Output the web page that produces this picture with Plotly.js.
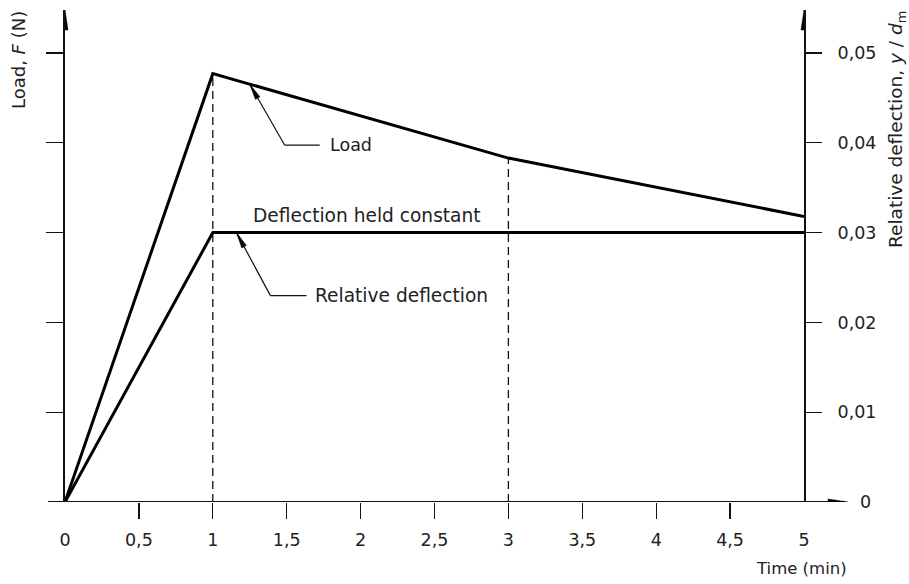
<!DOCTYPE html>
<html>
<head>
<meta charset="utf-8">
<script src="https://cdn.plot.ly/plotly-3.0.1.min.js"></script>
<style>html,body{margin:0;padding:0;background:#fff;}#chart{width:909px;height:584px;}</style>
</head>
<body>
<div id="chart"></div>
<script>
// ---- data ----
const loadTime = [0, 1, 3, 5];
const loadValues = [0, 0.0477, 0.0383, 0.0318];
const deflTime = [0, 1, 5];
const deflValues = [0, 0.03, 0.03];
const dashedTimes = [1, 3];
const xTickVals = [0, 0.5, 1, 1.5, 2, 2.5, 3, 3.5, 4, 4.5, 5];
const xTickText = ['0', '0,5', '1', '1,5', '2', '2,5', '3', '3,5', '4', '4,5', '5'];
const xMinorTicks = [0.5, 1, 1.5, 2, 2.5, 3, 3.5, 4, 4.5];
const yTickVals = [0.01, 0.02, 0.03, 0.04, 0.05];
const yTickText = ['0,01', '0,02', '0,03', '0,04', '0,05'];

const FONT = 'DejaVu Sans';
const TXT = '#222';
const FS = 17.5;
const FA = 18.6;

function interp(xs, ys, x) {
  for (let i = 0; i < xs.length - 1; i++) {
    if (x >= xs[i] && x <= xs[i + 1]) {
      return ys[i] + (ys[i + 1] - ys[i]) * (x - xs[i]) / (xs[i + 1] - xs[i]);
    }
  }
  return ys[ys.length - 1];
}
function headPath(dx, dy, len, hw) {
  const L = Math.hypot(dx, dy), ux = dx / L, uy = dy / L, px = -uy, py = ux;
  const bx = ux * len, by = uy * len;
  return `M0,0 L${bx + px * hw},${by + py * hw} L${bx - px * hw},${by - py * hw} Z`;
}

const yTop = 0.05 * 492 / 449;

const traces = [];
dashedTimes.forEach(t => {
  traces.push({
    x: [t, t], y: [0, interp(loadTime, loadValues, t)],
    mode: 'lines', line: {color: '#111', width: 1.3, dash: '8px,5px'},
    hoverinfo: 'skip', showlegend: false
  });
});
traces.push({x: loadTime, y: loadValues, mode: 'lines', line: {color: '#000', width: 3}, showlegend: false});
traces.push({x: deflTime, y: deflValues, mode: 'lines', line: {color: '#000', width: 3}, showlegend: false});
traces.push({x: deflTime, y: deflValues, yaxis: 'y2', mode: 'lines', line: {color: 'rgba(0,0,0,0)', width: 0}, hoverinfo: 'skip', showlegend: false});

// pointer leaders
const loadHeadX = 1.25, loadHeadY = interp(loadTime, loadValues, 1.25);
const deflHeadX = 1.16, deflHeadY = interp(deflTime, deflValues, 1.16);

const shapes = [];
function leader(hx, hy, dx, dy, hlen) {
  shapes.push({type: 'line', xref: 'x', yref: 'y', xsizemode: 'pixel', ysizemode: 'pixel',
    xanchor: hx, yanchor: hy, x0: 0, y0: 0, x1: dx, y1: dy, line: {color: '#111', width: 1.2}});
  shapes.push({type: 'line', xref: 'x', yref: 'y', xsizemode: 'pixel', ysizemode: 'pixel',
    xanchor: hx, yanchor: hy, x0: dx, y0: dy, x1: dx + hlen, y1: dy, line: {color: '#111', width: 1.2}});
  shapes.push({type: 'path', xref: 'x', yref: 'y', xsizemode: 'pixel', ysizemode: 'pixel',
    xanchor: hx, yanchor: hy, path: headPath(dx, dy, 16, 2.6), fillcolor: '#000', line: {color: '#000', width: 0.5}});
}
leader(loadHeadX, loadHeadY, 35, -61, 35);
leader(deflHeadX, deflHeadY, 34, -63, 36);

// x axis line with arrow
shapes.push({type: 'line', xref: 'paper', yref: 'y', x0: -17 / 739, x1: (845 - 65) / 739, y0: 0, y1: 0,
  line: {color: '#111', width: 2}});
shapes.push({type: 'path', xref: 'paper', yref: 'y', xsizemode: 'pixel', ysizemode: 'pixel',
  xanchor: (848 - 65) / 739, yanchor: 0, path: headPath(-1, 0, 20, 3), fillcolor: '#000', line: {color: '#000', width: 0.5}});
// vertical axis arrows
[0, 5].forEach(xv => {
  shapes.push({type: 'path', xref: 'x', yref: 'paper', xsizemode: 'pixel', ysizemode: 'pixel',
    xanchor: xv, yanchor: (502 - 10) / 492, path: headPath(0, -1, 20, 3), fillcolor: '#000', line: {color: '#000', width: 0.5}});
});

const annotations = [
  {x: loadHeadX, y: loadHeadY, xref: 'x', yref: 'y', text: 'Load', showarrow: false,
    xanchor: 'left', yanchor: 'middle', xshift: 78, yshift: -61, font: {family: FONT, size: FS, color: TXT}},
  {x: deflHeadX, y: deflHeadY, xref: 'x', yref: 'y', text: 'Relative deflection', showarrow: false,
    xanchor: 'left', yanchor: 'middle', xshift: 77, yshift: -63, font: {family: FONT, size: FA, color: TXT}},
  {x: 2.04, y: 0.03, xref: 'x', yref: 'y', text: 'Deflection held constant', showarrow: false,
    xanchor: 'center', yanchor: 'middle', yshift: 17, font: {family: FONT, size: FA, color: TXT}},
  {x: (801 - 65) / 739, y: -(568 - 502) / 492, xref: 'paper', yref: 'paper', text: 'Time (min)', showarrow: false,
    xanchor: 'center', yanchor: 'middle', font: {family: FONT, size: 16.5, color: TXT}},
  {x: (865 - 65) / 739, y: 0, xref: 'paper', yref: 'y', text: '0', showarrow: false,
    xanchor: 'center', yanchor: 'middle', font: {family: FONT, size: FS, color: TXT}},
  {x: (18 - 65) / 739, y: (502 - 60) / 492, xref: 'paper', yref: 'paper', text: 'Load, <i>F</i> (N)', textangle: -90,
    showarrow: false, xanchor: 'center', yanchor: 'middle', font: {family: FONT, size: 18, color: TXT}},
  {x: (897 - 65) / 739, y: (502 - 130) / 492, xref: 'paper', yref: 'paper',
    text: 'Relative deflection, <i>y</i> / <i>d</i><sub>m</sub>', textangle: -90,
    showarrow: false, xanchor: 'center', yanchor: 'middle', font: {family: FONT, size: 18.5, color: TXT}}
];

const layout = {
  width: 909, height: 584,
  margin: {l: 65, r: 105, t: 10, b: 82, pad: 0},
  paper_bgcolor: '#fff', plot_bgcolor: '#fff',
  showlegend: false,
  font: {family: FONT, size: FS, color: TXT},
  xaxis: {range: [0, 5], showgrid: false, zeroline: false, showline: false,
    tickmode: 'array', tickvals: xTickVals, ticktext: xTickText,
    ticks: 'outside', ticklen: 16, tickcolor: 'rgba(0,0,0,0)', ticklabelstandoff: 6,
    tickfont: {family: FONT, size: FS, color: TXT},
    minor: {tickmode: 'array', tickvals: xMinorTicks, ticks: 'outside', ticklen: 16, tickwidth: 1.3, tickcolor: '#111', showgrid: false}},
  yaxis: {range: [0, yTop], showgrid: false, zeroline: false, showline: true, linewidth: 2, linecolor: '#111',
    tickmode: 'array', tickvals: yTickVals, showticklabels: false,
    ticks: 'outside', ticklen: 17, tickwidth: 1.3, tickcolor: '#111'},
  yaxis2: {range: [0, yTop], overlaying: 'y', side: 'right', anchor: 'x', showgrid: false, zeroline: false,
    showline: true, linewidth: 2, linecolor: '#111',
    tickmode: 'array', tickvals: yTickVals, ticktext: yTickText,
    ticks: 'outside', ticklen: 16, tickwidth: 1.3, tickcolor: '#111', ticklabelstandoff: 12,
    tickfont: {family: FONT, size: FS, color: TXT}},
  shapes: shapes,
  annotations: annotations
};

Plotly.newPlot('chart', traces, layout, {displayModeBar: false, staticPlot: true});
</script>
</body>
</html>
